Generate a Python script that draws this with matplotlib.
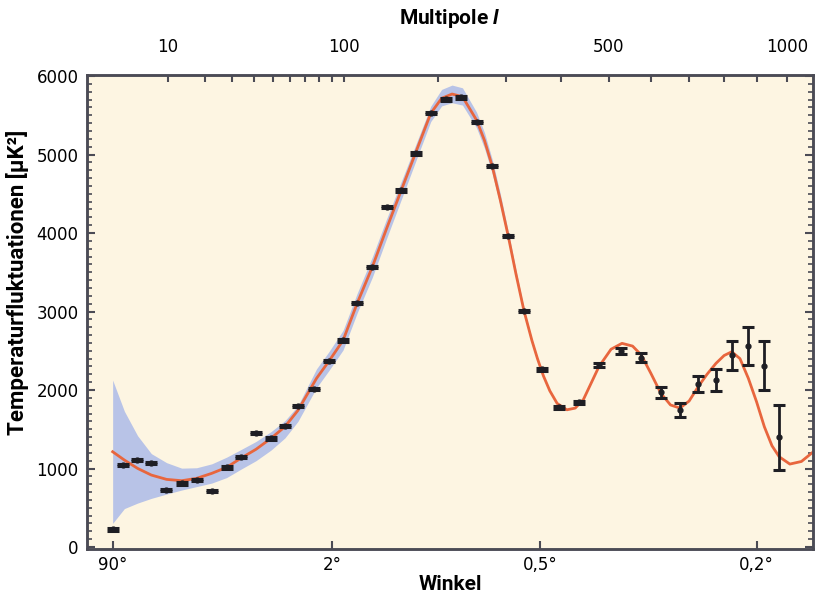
import matplotlib.pyplot as plt
import numpy as np
from matplotlib.ticker import NullLocator

plt.rcParams['font.family'] = ['DejaVu Sans']
plt.rcParams['mathtext.fontset'] = 'custom'
plt.rcParams['mathtext.it'] = 'Roboto:italic:bold'

# binned measurements: multipole l, temperature fluctuation (muK^2), error
pts_l = [2, 3, 4.6, 6.7, 9.6, 13.2, 17.3, 22.2, 27.7, 33.6, 40.8, 48.7, 56.8,
         65.1, 76.2, 87.5, 99.2, 111.5, 125.7, 140.3, 156.1, 173, 191, 210.8,
         231, 254.2, 277.7, 304.1, 330.9, 362.7, 396.2, 435.7, 478.2, 527,
         576.1, 625.3, 675, 725.4, 776, 824.5, 873.8, 924.8, 974.2]
pts_v = [225, 1045, 1108, 1074, 726, 811, 853, 717, 1015, 1143, 1456, 1385, 1541,
         1796, 2013, 2369, 2633, 3108, 3567, 4335, 4544, 5015, 5529, 5703,
         5729, 5418, 4854, 3962, 3006, 2264, 1780, 1843, 2314, 2497,
         2412, 1970, 1745, 2076, 2127, 2446, 2564, 2310, 1397]
pts_err = [15, 15, 15, 15, 15, 15, 15, 15, 15, 15, 15, 15, 15,
           15, 15, 15, 15, 15, 15, 15, 15, 15, 15, 15,
           15, 15, 15, 15, 15, 20, 20, 20, 25, 35,
           60, 68, 85, 106, 144, 185, 244, 312, 414]

# model curve
curve_l = [2, 3.1, 4.7, 6.8, 9.7, 13.2, 17.3, 22.2, 27.7, 33.6, 40.8, 48.7, 56.8,
           65, 78, 87.5, 99, 111.5, 125.7, 140, 156, 173, 191, 205, 219, 233.5,
           254, 266, 278, 291, 304, 317, 331, 345, 355, 366, 378, 392, 411, 428,
           445, 478, 505, 530, 555, 576, 600, 625, 650, 675, 700, 725, 750, 776,
           800, 823, 848, 874, 900, 925, 950, 974, 1010, 1050, 1091]
curve_v = [1214, 1108, 1002, 917, 862, 845, 875, 939, 1015, 1130, 1245, 1385, 1533,
           1740, 2149, 2369, 2633, 3108, 3567, 4051, 4544, 5036, 5525, 5716, 5771, 5737,
           5439, 5180, 4854, 4420, 3962, 3480, 3006, 2630, 2400, 2180, 1990, 1830, 1748, 1770,
           1880, 2297, 2520, 2595, 2560, 2446, 2210, 1958, 1810, 1770, 1860, 2042, 2200, 2340,
           2440, 2488, 2400, 2149, 1850, 1533, 1290, 1150, 1057, 1090, 1210]

# uncertainty band around the model
band_l = curve_l[:39]
band_lo = [302, 490, 560, 620, 675, 726, 770, 815, 885, 990, 1100, 1235, 1390,
           1600, 2030, 2250, 2510, 2985, 3435, 3925, 4425, 4925, 5420, 5620, 5660, 5630,
           5340, 5080, 4760, 4340, 3900, 3430, 2970, 2610, 2385, 2170, 1985, 1828, 1748]
band_hi = [2127, 1730, 1418, 1190, 1075, 1005, 1010, 1060, 1145, 1240, 1345, 1470, 1610,
           1800, 2270, 2490, 2760, 3235, 3695, 4175, 4655, 5135, 5615, 5830, 5885, 5850,
           5540, 5280, 4940, 4500, 4020, 3530, 3040, 2650, 2415, 2190, 1995, 1832, 1748]

top_ticks = [10, 20, 30, 40, 50, 60, 70, 80, 90, 100,
             200, 300, 400, 500, 600, 700, 800, 900, 1000]
top_labels = {10: '10', 100: '100', 500: '500', 1000: '1000'}
angle_l = [2, 90, 360, 900]
angle_labels = ['90°', '2°', '0,5°', '0,2°']


def fwd(x):
    x = np.asarray(x, dtype=float)
    return np.sign(x) * np.abs(x) ** 0.4


def inv(x):
    x = np.asarray(x, dtype=float)
    return np.sign(x) * np.abs(x) ** 2.5


label_font = dict(family=['Roboto', 'DejaVu Sans'], fontweight='bold', fontsize=15)
frame = '#4b4b55'

fig = plt.figure(figsize=(8.17, 5.95), dpi=100)
ax = fig.add_axes([0.1065, 0.0773, 0.8886, 0.7966])
ax.set_facecolor('#fdf5e2')
ax.set_xscale('function', functions=(fwd, inv))
ax.set_xlim(0.515, 1091)
ax.set_ylim(-25, 6013)

ax.fill_between(band_l, band_lo, band_hi, color='#b8c3e7', lw=0, zorder=1)
ax.plot(curve_l, curve_v, color='#e8663e', lw=2, zorder=2)
ax.errorbar(pts_l, pts_v, yerr=pts_err, fmt='o', ms=3.5, color='#1e1e24',
            elinewidth=2, capsize=4.5, capthick=2.2, zorder=3)

ax.set_xticks(angle_l, angle_labels)
ax.xaxis.set_minor_locator(NullLocator())
ax.tick_params(axis='x', direction='in', length=6, width=1.5, color=frame,
               labelsize=12, pad=5, top=False)
ax.set_xlabel('Winkel', labelpad=1, **label_font)

ax.set_yticks(np.arange(0, 6001, 1000))
ax.set_yticks(np.arange(0, 6001, 100), minor=True)
ax.tick_params(axis='y', which='major', direction='in', length=6, width=1.5,
               color=frame, labelsize=12, pad=6, right=True)
ax.tick_params(axis='y', which='minor', direction='in', length=3.5, width=1.2,
               color=frame, right=True)
ax.set_ylabel('Temperaturfluktuationen [μK²]', fontfamily=['Roboto', 'DejaVu Sans'],
              fontweight='bold', fontsize=16)
ax.yaxis.set_label_coords(-0.080, 0.563)

ax2 = ax.twiny()
ax2.set_xscale('function', functions=(fwd, inv))
ax2.set_xlim(ax.get_xlim())
ax2.set_xticks(top_ticks, [top_labels.get(t, '') for t in top_ticks])
ax2.xaxis.set_minor_locator(NullLocator())
ax2.tick_params(axis='x', direction='in', length=5, width=1.5, color=frame,
                labelsize=12, pad=14)
ax2.set_xlabel('Multipole $l$', labelpad=10, **label_font)

for a in (ax, ax2):
    for s in a.spines.values():
        s.set_color(frame)
        s.set_linewidth(1.8)

fig.savefig('out.png', dpi=100)
